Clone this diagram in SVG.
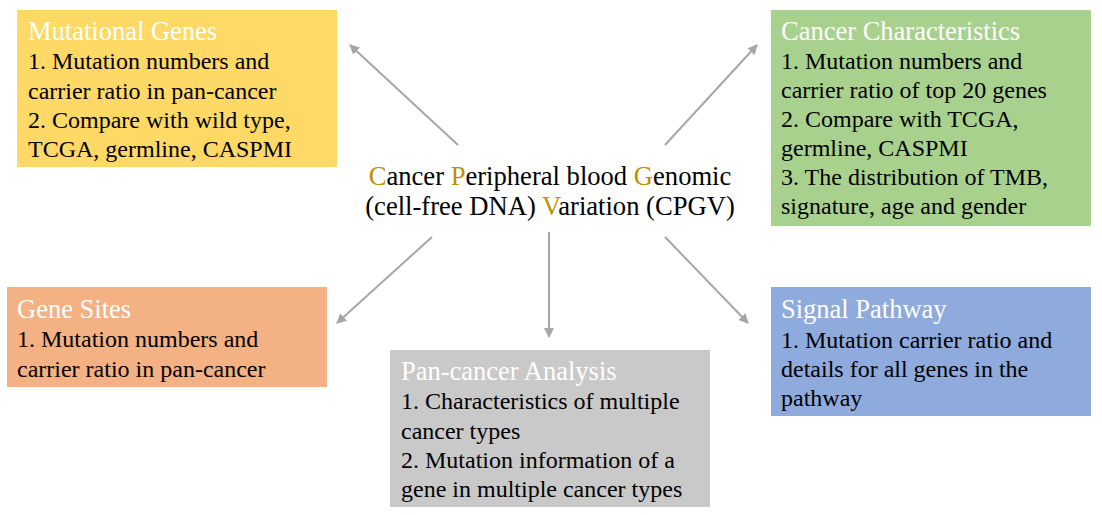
<svg xmlns="http://www.w3.org/2000/svg" width="1102" height="515" viewBox="0 0 1102 515">
<style>
text{font-family:"Liberation Serif","Times New Roman",serif;font-size:24px;fill:#000}
.t{fill:#fff;font-size:26.5px}
.c{font-size:26.6px}
.g{fill:#BF9000}
.a{stroke:#A6A6A6;stroke-width:2;fill:none;marker-end:url(#ah)}
</style>
<defs>
<marker id="ah" viewBox="0 0 10 10" refX="9" refY="5" markerWidth="5" markerHeight="5" orient="auto" markerUnits="strokeWidth">
<path d="M0,0 L10,5 L0,10 z" fill="#A6A6A6"/>
</marker>
</defs>
<rect width="1102" height="515" fill="#fff"/>
<g id="connectors">
<line class="a" x1="458" y1="145" x2="350" y2="45"/>
<line class="a" x1="665" y1="145" x2="757" y2="45"/>
<line class="a" x1="432" y1="237" x2="337" y2="323"/>
<line class="a" x1="549" y1="232" x2="549" y2="337"/>
<line class="a" x1="665" y1="237" x2="748" y2="323"/>
</g>
<g id="center">
<text class="c" x="550" y="185" text-anchor="middle"><tspan class="g">C</tspan>ancer <tspan class="g">P</tspan>eripheral blood <tspan class="g">G</tspan>enomic</text>
<text class="c" x="550" y="215" text-anchor="middle">(cell-free DNA) <tspan class="g">V</tspan>ariation (CPGV)</text>
</g>
<g id="mutational-genes">
<rect x="17" y="10" width="320" height="157" fill="#FFD966"/>
<text class="t" x="28" y="40">Mutational Genes</text>
<text x="28" y="69">1. Mutation numbers and</text>
<text x="28" y="99">carrier ratio in pan-cancer</text>
<text x="28" y="128">2. Compare with wild type,</text>
<text x="28" y="157">TCGA, germline, CASPMI</text>
</g>
<g id="cancer-characteristics">
<rect x="771" y="10" width="320" height="216" fill="#A9D18E"/>
<text class="t" x="781" y="40">Cancer Characteristics</text>
<text x="781" y="69">1. Mutation numbers and</text>
<text x="781" y="98">carrier ratio of top 20 genes</text>
<text x="781" y="127">2. Compare with TCGA,</text>
<text x="781" y="156">germline, CASPMI</text>
<text x="781" y="185">3. The distribution of TMB,</text>
<text x="781" y="214">signature, age and gender</text>
</g>
<g id="gene-sites">
<rect x="7" y="287" width="320" height="100" fill="#F4B183"/>
<text class="t" x="17" y="318">Gene Sites</text>
<text x="17" y="347">1. Mutation numbers and</text>
<text x="17" y="377">carrier ratio in pan-cancer</text>
</g>
<g id="pan-cancer-analysis">
<rect x="390" y="350" width="320" height="157" fill="#C9C9C9"/>
<text class="t" x="401" y="380">Pan-cancer Analysis</text>
<text x="401" y="409">1. Characteristics of multiple</text>
<text x="401" y="439">cancer types</text>
<text x="401" y="468">2. Mutation information of a</text>
<text x="401" y="497">gene in multiple cancer types</text>
</g>
<g id="signal-pathway">
<rect x="771" y="287" width="320" height="129" fill="#8FAADC"/>
<text class="t" x="781" y="318">Signal Pathway</text>
<text x="781" y="348">1. Mutation carrier ratio and</text>
<text x="781" y="377">details for all genes in the</text>
<text x="781" y="406">pathway</text>
</g>
</svg>
